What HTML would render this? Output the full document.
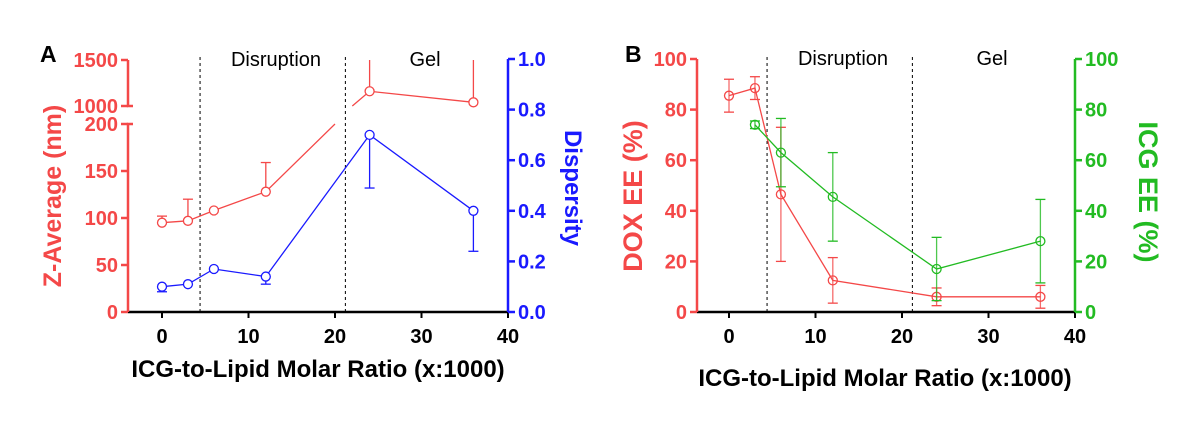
<!DOCTYPE html>
<html><head><meta charset="utf-8"><style>
body{margin:0;background:#fff}
svg{display:block;font-family:"Liberation Sans",Arial,sans-serif}
</style></head><body>
<svg id="c" width="1200" height="423" viewBox="0 0 1200 423" xmlns="http://www.w3.org/2000/svg"></svg>
<script>
const xsA=[0,3,6,12,24,36];
const zAvg=[95,97,108,128,1160,1040];
const zErr=[7,23,0,31,340,460];
const zBreakX=[20,22];
const disp=[0.10,0.11,0.17,0.14,0.70,0.40];
const dispErr=[0.02,0,0,0.03,0.21,0.16];
const xsDox=[0,3,6,12,24,36];
const dox=[85.5,88.5,46.5,12.5,6,6];
const doxErr=[6.5,4.5,26.5,9,3.5,4.5];
const xsIcg=[3,6,12,24,36];
const icg=[74,63,45.5,17,28];
const icgErr=[1.5,13.5,17.5,12.5,16.5];
const xTicks=[0,10,20,30,40];
const zLowTicks=[0,50,100,150,200];
const zHighTicks=[1000,1500];
const dispTicks=[0,0.2,0.4,0.6,0.8,1.0];
const eeTicks=[0,20,40,60,80,100];
const regions=[4.4,21.2];

const NS="http://www.w3.org/2000/svg";
const svg=document.getElementById('c');
function el(t,a,p){const e=document.createElementNS(NS,t);for(const k in a)e.setAttribute(k,a[k]);(p||svg).appendChild(e);return e;}
function txt(s,a,p){const e=el('text',a,p);e.textContent=s;return e;}
const RED='#f44848',BLUE='#1a1aff',GREEN='#22bb22';
const TF=20;

// ---------- Panel A ----------
const gA=el('g',{});


const xA=v=>162+v*8.65;
const yLow=v=>312-v*0.94;
const yHigh=v=>106-(v-1000)*0.092;
const yZ=v=>v<=200?yLow(v):yHigh(v);
const yD=v=>312-v*253;
el('line',{x1:128,y1:312,x2:508,y2:312,stroke:'#000','stroke-width':2.5},gA);
el('path',{d:`M133 ${yLow(200)} H128 V312`,stroke:RED,'stroke-width':2.5,fill:'none'},gA);
el('path',{d:`M133 ${yHigh(1000)} H128 V${yHigh(1500)}`,stroke:RED,'stroke-width':2.5,fill:'none'},gA);
el('line',{x1:508,y1:312,x2:508,y2:yD(1),stroke:BLUE,'stroke-width':2.5},gA);
xTicks.forEach(t=>{el('line',{x1:xA(t),y1:312,x2:xA(t),y2:318,stroke:'#000','stroke-width':2},gA);
 const l=txt(t,{x:xA(t),y:343,'font-size':TF,'font-weight':'bold','text-anchor':'middle'},gA);
 });
[...zLowTicks.map(t=>[t,yLow(t)]),...zHighTicks.map(t=>[t,yHigh(t)])].forEach(([t,y])=>{
 el('line',{x1:121,y1:y,x2:128,y2:y,stroke:RED,'stroke-width':2.5},gA);
 const l=txt(t,{x:118,y:y+7,'font-size':TF,'font-weight':'bold','text-anchor':'end',fill:RED},gA);
 });
dispTicks.forEach(t=>{const y=yD(t);el('line',{x1:508,y1:y,x2:515,y2:y,stroke:BLUE,'stroke-width':2.5},gA);
 const l=txt(t.toFixed(1),{x:518,y:y+7,'font-size':TF,'font-weight':'bold',fill:BLUE},gA);
 });
regions.forEach(r=>el('line',{x1:xA(r),y1:312,x2:xA(r),y2:56,stroke:'#000','stroke-width':1,'stroke-dasharray':'3,3'},gA));
txt('Disruption',{x:276,y:66,'font-size':20,'text-anchor':'middle'},gA);
txt('Gel',{x:425,y:66,'font-size':20,'text-anchor':'middle'},gA);
txt('A',{x:40,y:62,'font-size':23,'font-weight':'bold'},gA);
let t=txt('Z-Average (nm)',{x:0,y:0,'font-size':25,'font-weight':'bold',fill:RED,'text-anchor':'middle',transform:'translate(61,196) rotate(-90)'},gA);

t=txt('Dispersity',{x:0,y:0,'font-size':24,'font-weight':'bold',fill:BLUE,'text-anchor':'middle',transform:'translate(565,188) rotate(90)'},gA);

t=txt('ICG-to-Lipid Molar Ratio (x:1000)',{x:318,y:377,'font-size':24,'font-weight':'bold','text-anchor':'middle'},gA);

let d='';
for(let i=0;i<xsA.length;i++){
 const X=xA(xsA[i]),Y=yZ(zAvg[i]);
 if(i>0&&zAvg[i-1]<=200&&zAvg[i]>200){
  d+=`L${xA(zBreakX[0])} ${yLow(200)}M${xA(zBreakX[1])} ${yHigh(1000)}L${X} ${Y}`;
 } else d+=(i?'L':'M')+X+' '+Y;
}
const lr=el('path',{d:d,stroke:RED,'stroke-width':1.3,fill:'none'},gA);

xsA.forEach((x,i)=>{if(zErr[i]>0){const top=Math.min(zAvg[i]+zErr[i],1500);
 el('line',{x1:xA(x),y1:yZ(zAvg[i]),x2:xA(x),y2:yZ(top),stroke:RED,'stroke-width':1.3},gA);
 if(top<1500)el('line',{x1:xA(x)-5,y1:yZ(top),x2:xA(x)+5,y2:yZ(top),stroke:RED,'stroke-width':1.3},gA);}
 const c=el('circle',{cx:xA(x),cy:yZ(zAvg[i]),r:4.5,fill:'#fff',stroke:RED,'stroke-width':1.3},gA);
 });
const lb=el('path',{d:xsA.map((x,i)=>(i?'L':'M')+xA(x)+' '+yD(disp[i])).join(''),stroke:BLUE,'stroke-width':1.3,fill:'none'},gA);

xsA.forEach((x,i)=>{if(dispErr[i]>0){const b=yD(disp[i]-dispErr[i]);
 el('line',{x1:xA(x),y1:yD(disp[i]),x2:xA(x),y2:b,stroke:BLUE,'stroke-width':1.3},gA);
 el('line',{x1:xA(x)-5,y1:b,x2:xA(x)+5,y2:b,stroke:BLUE,'stroke-width':1.3},gA);}
 const c=el('circle',{cx:xA(x),cy:yD(disp[i]),r:4.5,fill:'#fff',stroke:BLUE,'stroke-width':1.3},gA);
 });

// ---------- Panel B ----------
const gB=el('g',{});


const xB=v=>729+v*8.65;
const yB=v=>312-v*2.53;
el('line',{x1:697,y1:312,x2:1075,y2:312,stroke:'#000','stroke-width':2.5},gB);
el('line',{x1:697,y1:312,x2:697,y2:yB(100),stroke:RED,'stroke-width':2.5},gB);
el('line',{x1:1075,y1:312,x2:1075,y2:yB(100),stroke:GREEN,'stroke-width':2.5},gB);
xTicks.forEach(t=>{el('line',{x1:xB(t),y1:312,x2:xB(t),y2:318,stroke:'#000','stroke-width':2},gB);
 const l=txt(t,{x:xB(t),y:343,'font-size':TF,'font-weight':'bold','text-anchor':'middle'},gB);
 });
eeTicks.forEach(t=>{const y=yB(t);
 el('line',{x1:690,y1:y,x2:697,y2:y,stroke:RED,'stroke-width':2.5},gB);
 let l=txt(t,{x:687,y:y+7,'font-size':TF,'font-weight':'bold','text-anchor':'end',fill:RED},gB);
 
 el('line',{x1:1075,y1:y,x2:1082,y2:y,stroke:GREEN,'stroke-width':2.5},gB);
 l=txt(t,{x:1085,y:y+7,'font-size':TF,'font-weight':'bold',fill:GREEN},gB);
 });
regions.forEach(r=>el('line',{x1:xB(r),y1:312,x2:xB(r),y2:56,stroke:'#000','stroke-width':1,'stroke-dasharray':'3,3'},gB));
txt('Disruption',{x:843,y:65,'font-size':20,'text-anchor':'middle'},gB);
txt('Gel',{x:992,y:65,'font-size':20,'text-anchor':'middle'},gB);
txt('B',{x:625,y:62,'font-size':23,'font-weight':'bold'},gB);
t=txt('DOX EE (%)',{x:0,y:0,'font-size':27,'font-weight':'bold',fill:RED,'text-anchor':'middle',transform:'translate(642,196) rotate(-90)'},gB);

t=txt('ICG EE  (%)',{x:0,y:0,'font-size':27,'font-weight':'bold',fill:GREEN,'text-anchor':'middle','xml:space':'preserve',transform:'translate(1139,192) rotate(90)'},gB);

t=txt('ICG-to-Lipid Molar Ratio (x:1000)',{x:885,y:386,'font-size':24,'font-weight':'bold','text-anchor':'middle'},gB);

function series(xs,ys,es,col,name){
 const l=el('path',{d:xs.map((x,i)=>(i?'L':'M')+xB(x)+' '+yB(ys[i])).join(''),stroke:col,'stroke-width':1.3,fill:'none'},gB);
 
 xs.forEach((x,i)=>{const a=yB(ys[i]+es[i]),b=yB(ys[i]-es[i]),X=xB(x);
  el('line',{x1:X,y1:a,x2:X,y2:b,stroke:col,'stroke-width':1.3,opacity:0.8},gB);
  el('line',{x1:X-5,y1:a,x2:X+5,y2:a,stroke:col,'stroke-width':1.3},gB);
  el('line',{x1:X-5,y1:b,x2:X+5,y2:b,stroke:col,'stroke-width':1.3},gB);
  const c=el('circle',{cx:X,cy:yB(ys[i]),r:4.5,fill:'none',stroke:col,'stroke-width':1.3},gB);
  });
}
series(xsDox,dox,doxErr,RED,'dox-ee');
series(xsIcg,icg,icgErr,GREEN,'icg-ee');
</script>
</body></html>
